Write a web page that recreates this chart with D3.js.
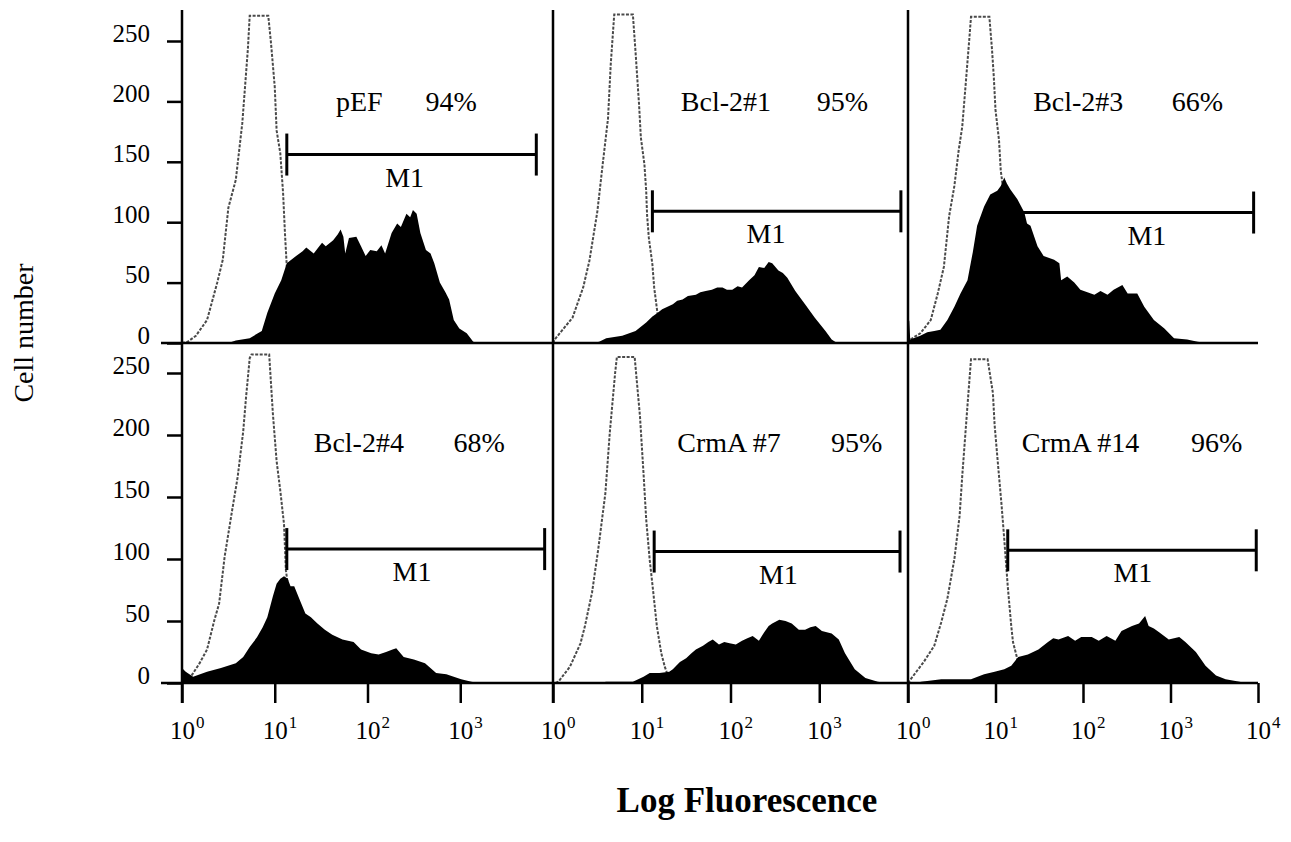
<!DOCTYPE html>
<html>
<head>
<meta charset="utf-8">
<script src="https://cdn.jsdelivr.net/npm/d3@7"></script>
<style>
  body { margin: 0; background: #fff; }
  svg { display: block; font-family: "Liberation Serif", "Times New Roman", serif; }
</style>
</head>
<body>
<svg id="chart" width="1291" height="842"></svg>
<script>
// ---- data : [log10 fluorescence, cell count] ----
const pefControl = [[0,0],[0.06,1],[0.15,6],[0.27,19],[0.38,50],[0.44,69],[0.50,112],[0.58,135],[0.65,182],[0.71,243],[0.73,271],[0.93,271],[0.96,248],[1.0,212],[1.02,176],[1.06,157],[1.09,124],[1.11,91],[1.13,63],[1.17,22],[1.23,3],[1.3,0]];
const pefStained = [[0.50,0],[0.58,2],[0.73,4],[0.86,10],[0.92,25],[1.0,41],[1.07,52],[1.13,66],[1.23,72],[1.30,76],[1.34,79],[1.42,74],[1.48,80],[1.51,83],[1.55,80],[1.63,85],[1.68,90],[1.71,94],[1.74,88],[1.76,74],[1.80,87],[1.88,88],[1.93,80],[1.98,72],[2.03,77],[2.10,76],[2.15,81],[2.19,74],[2.26,91],[2.32,99],[2.36,96],[2.42,107],[2.46,104],[2.49,110],[2.53,107],[2.57,91],[2.63,77],[2.68,74],[2.72,66],[2.78,50],[2.84,42],[2.88,36],[2.93,19],[2.99,12],[3.07,8],[3.14,1],[3.2,0],[4,0]];

const bcl1Control = [[0,0],[0.02,3],[0.22,21],[0.34,46],[0.41,68],[0.50,109],[0.56,148],[0.62,186],[0.65,230],[0.69,272],[0.90,272],[0.93,241],[0.97,197],[0.99,170],[1.03,148],[1.05,126],[1.06,106],[1.08,87],[1.12,65],[1.14,46],[1.18,23],[1.22,7],[1.27,1],[1.32,0]];
const bcl1Stained = [[0.45,0],[0.52,1],[0.60,4],[0.78,6],[0.93,10],[1.05,17],[1.12,22],[1.18,25],[1.23,28],[1.35,32],[1.40,35],[1.46,36],[1.52,39],[1.61,40],[1.66,42],[1.72,43],[1.79,44],[1.85,46],[1.91,46],[1.96,44],[2.02,44],[2.08,47],[2.13,46],[2.21,52],[2.27,56],[2.32,63],[2.38,62],[2.43,67],[2.47,66],[2.54,60],[2.59,58],[2.64,54],[2.73,43],[2.84,32],[2.95,21],[3.07,10],[3.14,3],[3.2,0],[4,0]];

const bcl3Control = [[0,0],[0.03,3],[0.14,8],[0.26,19],[0.34,41],[0.41,63],[0.47,105],[0.53,130],[0.58,160],[0.62,179],[0.66,215],[0.70,251],[0.72,270],[0.93,270],[0.96,243],[0.98,221],[1.0,193],[1.04,168],[1.06,143],[1.10,120],[1.15,80],[1.2,40],[1.25,10],[1.3,0]];
const bcl3Stained = [[0,0],[0.005,20],[0.015,18],[0.025,3],[0.14,6],[0.22,9],[0.30,10],[0.37,11],[0.45,19],[0.53,30],[0.60,41],[0.68,52],[0.74,75],[0.79,97],[0.87,113],[0.94,123],[1.02,126],[1.06,130],[1.10,137],[1.13,132],[1.17,127],[1.25,119],[1.33,108],[1.36,99],[1.40,97],[1.48,80],[1.55,72],[1.67,69],[1.73,66],[1.75,52],[1.82,55],[1.90,50],[1.97,44],[2.05,42],[2.13,40],[2.20,43],[2.28,40],[2.35,44],[2.45,48],[2.51,41],[2.62,41],[2.70,30],[2.81,19],[2.93,12],[3.04,4],[3.19,3],[3.31,1],[3.4,0],[4,0]];

const bcl4Control = [[0.05,0],[0.12,8],[0.19,16],[0.27,27],[0.35,51],[0.40,64],[0.46,102],[0.54,139],[0.60,166],[0.66,203],[0.69,230],[0.73,262],[0.75,265],[0.94,265],[0.98,217],[1.02,179],[1.06,155],[1.10,128],[1.12,91],[1.14,80],[1.2,40],[1.28,5],[1.32,0]];
const bcl4Stained = [[0,0],[0,12],[0.04,9],[0.12,5],[0.27,9],[0.42,12],[0.58,16],[0.66,21],[0.73,29],[0.81,37],[0.87,45],[0.92,53],[0.98,70],[1.02,80],[1.06,84],[1.10,86],[1.14,84],[1.17,78],[1.21,78],[1.27,67],[1.33,56],[1.39,53],[1.46,48],[1.54,43],[1.62,39],[1.73,35],[1.85,33],[1.93,27],[2.04,24],[2.12,23],[2.20,25],[2.27,27],[2.31,28],[2.39,21],[2.50,19],[2.62,16],[2.74,8],[2.85,7],[3.01,3],[3.12,1],[3.2,0],[4,0]];

const crm7Control = [[0.03,0],[0.06,1],[0.19,13],[0.31,32],[0.36,46],[0.44,73],[0.51,108],[0.59,153],[0.64,202],[0.70,250],[0.72,263],[0.92,263],[0.94,247],[0.98,215],[1.02,169],[1.05,132],[1.09,99],[1.13,73],[1.17,46],[1.22,24],[1.26,13],[1.28,9],[1.32,0]];
const crm7Stained = [[0.5,0],[0.6,1],[0.9,1],[1.02,5],[1.09,8],[1.20,8],[1.31,9],[1.35,11],[1.43,17],[1.50,20],[1.56,24],[1.61,27],[1.69,30],[1.75,33],[1.80,35],[1.87,31],[1.93,33],[1.99,32],[2.06,31],[2.13,34],[2.19,36],[2.25,38],[2.32,34],[2.38,41],[2.43,46],[2.47,48],[2.55,51],[2.62,50],[2.69,48],[2.77,43],[2.84,43],[2.90,45],[2.96,46],[3.03,42],[3.14,40],[3.22,35],[3.29,24],[3.40,11],[3.52,4],[3.66,1],[3.75,0],[4,0]];

const crm14Control = [[0,0],[0.03,3],[0.18,17],[0.30,30],[0.38,49],[0.45,68],[0.53,100],[0.59,135],[0.62,167],[0.68,224],[0.72,261],[0.91,261],[0.97,234],[0.99,208],[1.03,175],[1.07,143],[1.10,116],[1.14,78],[1.18,46],[1.20,33],[1.24,22],[1.28,8],[1.32,0]];
const crm14Stained = [[0.1,0],[0.15,1],[0.38,3],[0.72,3],[0.87,7],[0.99,9],[1.10,11],[1.18,14],[1.26,21],[1.37,23],[1.49,27],[1.60,33],[1.66,36],[1.72,35],[1.83,38],[1.91,34],[1.98,37],[2.10,37],[2.18,34],[2.27,38],[2.37,34],[2.44,42],[2.50,44],[2.56,46],[2.64,48],[2.71,54],[2.75,46],[2.81,44],[2.87,41],[2.98,35],[3.10,37],[3.17,33],[3.29,25],[3.40,14],[3.52,6],[3.63,3],[3.79,1],[3.85,0],[4,0]];

const sampleNames = ["pEF", "Bcl-2#1", "Bcl-2#3", "Bcl-2#4", "CrmA #7", "CrmA #14"];
const percentPositive = ["94%", "95%", "66%", "68%", "95%", "96%"];
// M1 gate: [start decade, end decade, drawn at count]
const gates = [[1.13,3.82,156],[1.12,3.92,109],[1.10,3.95,108],[1.13,3.91,108],[1.14,3.91,106],[1.14,3.98,107]];
const yTicks = [0, 50, 100, 150, 200, 250];
const decades = [0, 1, 2, 3, 4];

const controls = [pefControl, bcl1Control, bcl3Control, bcl4Control, crm7Control, crm14Control];
const stained = [pefStained, bcl1Stained, bcl3Stained, bcl4Stained, crm7Stained, crm14Stained];

// ---- layout ----
const serif = "Liberation Serif, Times New Roman, serif";
const colEdges = [182, 553, 908, 1258];
const rowBase = [343, 683];
const row250 = [41, 373];
const plotTop = 10;
const tickBottom = 703;
// label positions (decades): name start, percent end, M1 centre
const labelPos = [[1.66,3.18,2.40],[1.44,3.55,2.40],[1.43,3.60,2.73],[1.42,3.48,2.48],[1.40,3.71,2.54],[1.30,3.82,2.57]];
const labelBase = [111, 452];

const svg = d3.select("#chart");

sampleNames.forEach((name, i) => {
    const col = i % 3, row = Math.floor(i / 3);
    const x = d3.scaleLinear().domain([0, 4]).range([colEdges[col], colEdges[col + 1]]);
    const y = d3.scaleLinear().domain([0, 250]).range([rowBase[row], row250[row]]);
    const g = svg.append("g");

    // control (dashed outline), then stained (filled) on top
    g.append("path")
        .datum(controls[i])
        .attr("d", d3.line().x(d => x(d[0])).y(d => y(d[1])))
        .attr("fill", "none")
        .attr("stroke", "#4a4a4a")
        .attr("stroke-width", 2)
        .attr("stroke-dasharray", "3,1.5");

    g.append("path")
        .datum(stained[i])
        .attr("d", d3.area().x(d => x(d[0])).y0(y(0)).y1(d => y(d[1])))
        .attr("fill", "#000");

    // M1 gate
    const [g0, g1, gc] = gates[i];
    const gy = y(gc);
    g.append("line").attr("x1", x(g0)).attr("x2", x(g1)).attr("y1", gy).attr("y2", gy)
        .attr("stroke", "#000").attr("stroke-width", 3);
    [g0, g1].forEach(v => {
        g.append("line").attr("x1", x(v)).attr("x2", x(v)).attr("y1", gy - 21).attr("y2", gy + 21)
            .attr("stroke", "#000").attr("stroke-width", 3);
    });
    g.append("text").attr("x", x(labelPos[i][2])).attr("y", gy + 32)
        .attr("text-anchor", "middle").attr("font-size", 28).text("M1");

    // sample name and % positive
    g.append("text").attr("x", x(labelPos[i][0])).attr("y", labelBase[row])
        .attr("font-size", 28).text(name);
    g.append("text").attr("x", x(labelPos[i][1])).attr("y", labelBase[row])
        .attr("text-anchor", "end").attr("font-size", 28).text(percentPositive[i]);

    // bottom axis ticks + labels (10 with superscript exponent)
    if (row === 1) {
        const vals = col === 2 ? decades : decades.slice(0, 4);
        const ax = svg.append("g").attr("transform", `translate(0,${rowBase[1]})`)
            .call(d3.axisBottom(x).tickValues(vals).tickSize(tickBottom - rowBase[1]).tickFormat(""));
        ax.select(".domain").remove();
        ax.selectAll(".tick text").remove();
        ax.selectAll(".tick line").attr("stroke", "#000").attr("stroke-width", 2.5);
        const lbl = ax.selectAll(".tick").append("text")
            .attr("x", -12.5).attr("y", 56).attr("fill", "#000")
            .attr("font-family", serif).attr("text-anchor", "start");
        lbl.append("tspan").attr("font-size", 25).text("10");
        lbl.append("tspan").attr("font-size", 17).attr("dx", 1).attr("dy", -11).text(d => d);
    }
});

// left axes
rowBase.forEach((b, r) => {
    const y = d3.scaleLinear().domain([0, 250]).range([b, row250[r]]);
    const ay = svg.append("g").attr("transform", `translate(${colEdges[0]},0)`)
        .call(d3.axisLeft(y).tickValues(yTicks).tickSize(15).tickPadding(17));
    ay.select(".domain").remove();
    ay.selectAll(".tick line").attr("stroke", "#000").attr("stroke-width", 2.5);
    ay.selectAll(".tick text").attr("dy", 0).attr("font-size", 25)
        .attr("font-family", serif).attr("fill", "#000");
});

// frame lines: baselines and panel dividers
rowBase.forEach(b => {
    svg.append("line").attr("x1", 161).attr("x2", colEdges[3]).attr("y1", b).attr("y2", b)
        .attr("stroke", "#000").attr("stroke-width", 2.5);
});
colEdges.slice(0, 3).forEach(cx => {
    svg.append("line").attr("x1", cx).attr("x2", cx).attr("y1", plotTop).attr("y2", tickBottom)
        .attr("stroke", "#000").attr("stroke-width", 2.5);
});

// axis titles
svg.append("text").attr("transform", "translate(33,333) rotate(-90)")
    .attr("text-anchor", "middle").attr("font-size", 28).text("Cell number");
svg.append("text").attr("x", 747).attr("y", 812)
    .attr("text-anchor", "middle").attr("font-size", 35).attr("font-weight", "bold")
    .text("Log Fluorescence");
</script>
</body>
</html>
